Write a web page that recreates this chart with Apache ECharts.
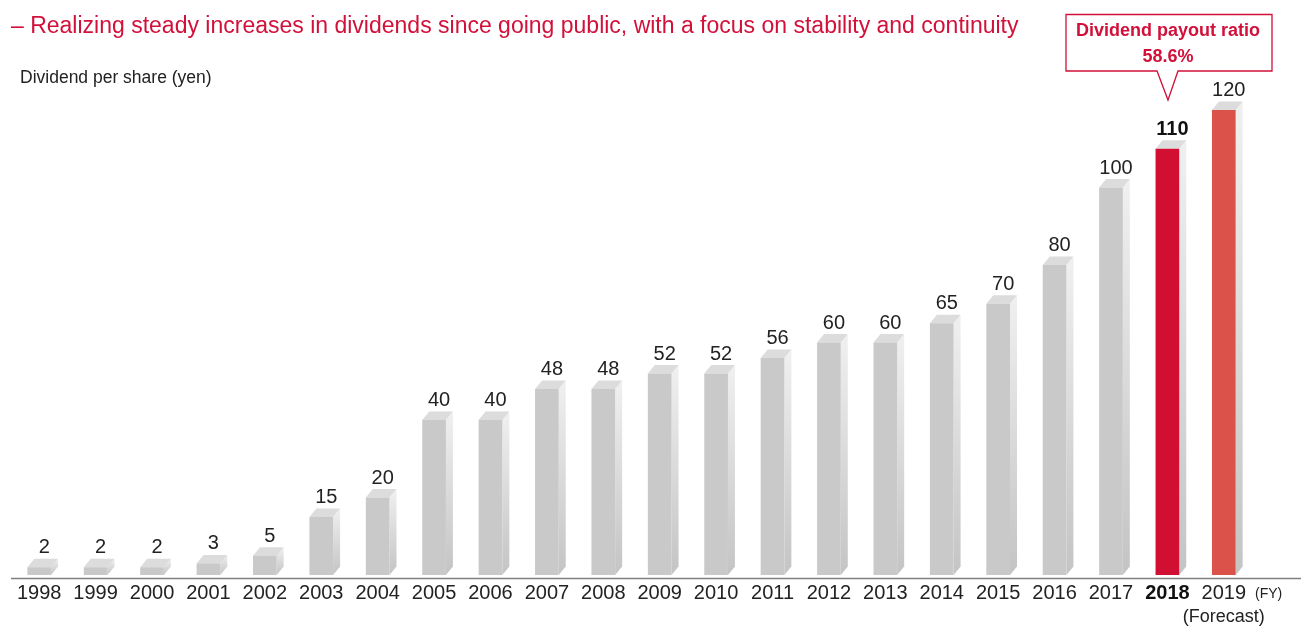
<!DOCTYPE html>
<html><head><meta charset="utf-8">
<script src="https://cdn.jsdelivr.net/npm/echarts@6/dist/echarts.min.js"></script>
<style>html,body{margin:0;padding:0;background:#fff}#c{width:1301px;height:629px}</style>
</head><body><div id="c"></div>
<script>
const years = ['1998','1999','2000','2001','2002','2003','2004','2005','2006','2007','2008','2009','2010','2011','2012','2013','2014','2015','2016','2017','2018','2019'];
const dividends = [2,2,2,3,5,15,20,40,40,48,48,52,52,56,60,60,65,70,80,100,110,120];
const tickLabels = ['1998','1999','2000','2001','2002','2003','2004','2005','2006','2007','2008','2009','2010','2011','2012','2013','2014','2015','2016','2017','2018','2019\n(Forecast)'];
const highlightYear = '2018';
const forecastYear = '2019';
const titleText = '– Realizing steady increases in dividends since going public, with a focus on stability and continuity';
const unitText = 'Dividend per share (yen)';
const calloutLines = ['Dividend payout ratio', '58.6%'];

const FONT = '"Liberation Sans", Arial, sans-serif';
const RED = '#d2103a';

const chart = echarts.init(document.getElementById('c'));
const option = {
  animation: false,
  title: {
    text: titleText, left: 6, top: 10,
    textStyle: {fontFamily: FONT, fontSize: 23, fontWeight: 'normal', color: RED}
  },
  grid: {left: 11, right: 49, top: 110, bottom: 51},
  xAxis: {
    type: 'category', data: years,
    axisLine: {show: false}, axisTick: {show: false},
    axisLabel: {
      interval: 0, margin: 6,
      fontFamily: FONT, fontSize: 20, color: '#222', lineHeight: 24,
      formatter: (v, i) => {
        if (v === highlightYear) return '{b|' + tickLabels[i] + '}';
        const parts = tickLabels[i].split('\n');
        return parts.length > 1 ? parts[0] + '\n{s|' + parts[1] + '}' : parts[0];
      },
      rich: {
        b: {fontFamily: FONT, fontSize: 20, fontWeight: 'bold', color: '#111', lineHeight: 24},
        s: {fontFamily: FONT, fontSize: 18, color: '#222', lineHeight: 24}
      }
    }
  },
  yAxis: {type: 'value', min: 0, max: 120, show: false, splitLine: {show: false}},
  graphic: [
    {type: 'line', shape: {x1: 11, y1: 578.5, x2: 1301, y2: 578.5}, style: {stroke: '#7f7f7f', lineWidth: 1.6}, z: 10},
    {type: 'text', left: 20, top: 69, style: {text: unitText, font: '17.5px ' + FONT, fill: '#222'}},
    {type: 'text', left: 1255, top: 587, style: {text: '(FY)', font: '14px ' + FONT, fill: '#222'}},
    {type: 'polygon', shape: {points: [[1066,14.5],[1272,14.5],[1272,71],[1178,71],[1168,100],[1157,71],[1066,71]]},
     style: {fill: '#fff', stroke: RED, lineWidth: 1.3}, z: 20},
    {type: 'text', x: 1168, y: 31, z: 21, style: {text: calloutLines[0], font: 'bold 18px ' + FONT, fill: RED, textAlign: 'center', textVerticalAlign: 'middle'}},
    {type: 'text', x: 1168, y: 57, z: 21, style: {text: calloutLines[1], font: 'bold 18px ' + FONT, fill: RED, textAlign: 'center', textVerticalAlign: 'middle'}}
  ],
  series: [{
    type: 'custom',
    clip: false,
    data: dividends.map((v, i) => [i, v]),
    encode: {x: 0, y: 1},
    renderItem: function (params, api) {
      const i = api.value(0), v = api.value(1);
      const top = api.coord([i, v]);
      const base = api.coord([i, 0]);
      const bw = api.size([1, 0])[0] * 0.42;
      const x0 = top[0] - bw / 2, x1 = top[0] + bw / 2;
      const dx = 7, dy = 8.5;
      const yr = years[i];
      let front = '#c9c9c9';
      if (yr === highlightYear) front = '#d20f32';
      if (yr === forecastYear) front = '#da5249';
      const side = new echarts.graphic.LinearGradient(0, 0, 0, 1, [{offset: 0, color: '#f0f0f0'}, {offset: 1, color: '#c4c4c4'}]);
      const bold = yr === highlightYear;
      return {
        type: 'group',
        children: [
          {type: 'polygon', shape: {points: [[x1, top[1]], [x1 + dx, top[1] - dy], [x1 + dx, base[1] - dy], [x1, base[1]]]}, style: {fill: side}},
          {type: 'polygon', shape: {points: [[x0, top[1]], [x1, top[1]], [x1 + dx, top[1] - dy], [x0 + dx, top[1] - dy]]}, style: {fill: '#dcdcdc'}},
          {type: 'rect', shape: {x: x0, y: top[1], width: bw, height: base[1] - top[1]}, style: {fill: front}},
          {type: 'text', x: top[0] + 5, y: top[1] - dy - 1,
           style: {text: String(v), font: (bold ? 'bold ' : '') + '20px ' + FONT, fill: bold ? '#111' : '#222', textAlign: 'center', textVerticalAlign: 'bottom'}}
        ]
      };
    }
  }]
};
chart.setOption(option);
</script>
</body></html>
